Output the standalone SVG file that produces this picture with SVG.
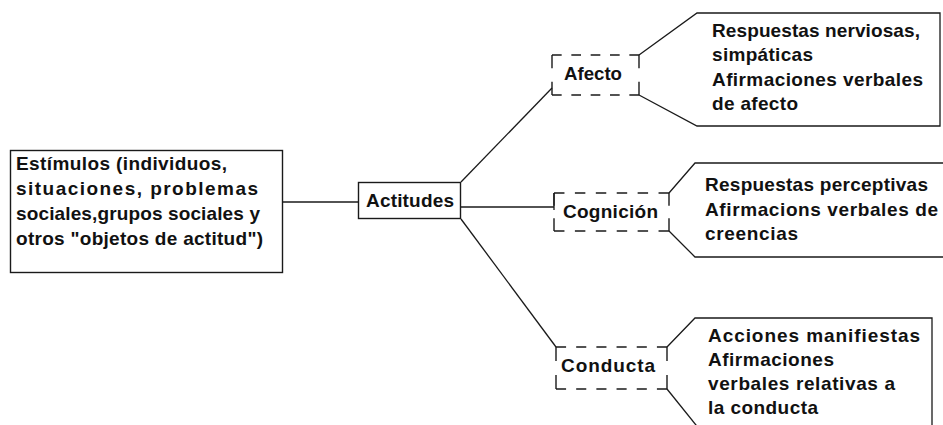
<svg xmlns="http://www.w3.org/2000/svg" width="943" height="425" viewBox="0 0 943 425">
  <style>
    .bg { fill: #ffffff; }
    .box { fill: #ffffff; stroke: #1a1a1a; stroke-width: 1.4; }
    .ln { fill: none; stroke: #1a1a1a; stroke-width: 1.3; }
    .dash { fill: none; stroke: #1a1a1a; stroke-width: 1.4; stroke-dasharray: 1 1; }
    text { font-family: "Liberation Sans", Arial, sans-serif; font-weight: bold; font-size: 19px; fill: #111111; }
  </style>
  <rect class="bg" x="0" y="0" width="943" height="425"/>

  <!-- connectors -->
  <g id="connectors">
    <line class="ln" x1="282" y1="202" x2="358" y2="202"/>
    <line class="ln" x1="461" y1="182" x2="552" y2="88"/>
    <line class="ln" x1="461" y1="207" x2="554" y2="207"/>
    <line class="ln" x1="461" y1="219" x2="556" y2="347"/>
  </g>

  <!-- stimulus node -->
  <g id="estimulos">
    <rect class="box" x="10.5" y="150.5" width="272" height="122"/>
    <text x="16" y="170" textLength="211" lengthAdjust="spacing">Estímulos (individuos,</text>
    <text x="16" y="195" textLength="242" lengthAdjust="spacing">situaciones, problemas</text>
    <text x="16" y="220" textLength="244" lengthAdjust="spacing">sociales,grupos sociales y</text>
    <text x="16" y="245" textLength="247" lengthAdjust="spacing">otros "objetos de actitud")</text>
  </g>

  <!-- central node -->
  <g id="actitudes">
    <rect class="box" x="358.5" y="182.5" width="102" height="36"/>
    <text x="366" y="207" textLength="88" lengthAdjust="spacing">Actitudes</text>
  </g>

  <!-- component: affect -->
  <g id="afecto">
    <line class="dash" x1="552" y1="55" x2="639" y2="55" pathLength="9"/>
    <line class="dash" x1="552" y1="95" x2="639" y2="95" pathLength="9"/>
    <line class="dash" x1="552" y1="55" x2="552" y2="95" pathLength="3"/>
    <line class="dash" x1="639" y1="55" x2="639" y2="95" pathLength="3"/>
    <text x="564" y="80" textLength="58" lengthAdjust="spacingAndGlyphs">Afecto</text>
  </g>
  <g id="afecto-respuestas">
    <polyline class="ln" points="639,55 697,13 940,13 940,126 697,126 639,95"/>
    <text x="712" y="37" textLength="208" lengthAdjust="spacing">Respuestas nerviosas,</text>
    <text x="712" y="61" textLength="101" lengthAdjust="spacing">simpáticas</text>
    <text x="712" y="86" textLength="211" lengthAdjust="spacing">Afirmaciones verbales</text>
    <text x="712" y="110" textLength="86" lengthAdjust="spacing">de afecto</text>
  </g>

  <!-- component: cognition -->
  <g id="cognicion">
    <line class="dash" x1="554" y1="193" x2="669" y2="193" pathLength="11"/>
    <line class="dash" x1="554" y1="231" x2="669" y2="231" pathLength="11"/>
    <line class="dash" x1="554" y1="193" x2="554" y2="231" pathLength="3"/>
    <line class="ln" x1="554" y1="193" x2="554" y2="210"/>
    <line class="dash" x1="669" y1="193" x2="669" y2="231" pathLength="3"/>
    <text x="563" y="218" textLength="95" lengthAdjust="spacing">Cognición</text>
  </g>
  <g id="cognicion-respuestas">
    <polyline class="ln" points="669,193 695,163 945,163"/>
    <polyline class="ln" points="669,231 695,257 945,257"/>
    <text x="705" y="191" textLength="223" lengthAdjust="spacing">Respuestas perceptivas</text>
    <text x="705" y="216" textLength="233" lengthAdjust="spacing">Afirmacions verbales de</text>
    <text x="705" y="240" textLength="93" lengthAdjust="spacing">creencias</text>
  </g>

  <!-- component: behaviour -->
  <g id="conducta">
    <line class="dash" x1="556" y1="347" x2="667" y2="347" pathLength="11"/>
    <line class="dash" x1="556" y1="389" x2="667" y2="389" pathLength="11"/>
    <line class="dash" x1="556" y1="347" x2="556" y2="389" pathLength="3"/>
    <line class="dash" x1="667" y1="347" x2="667" y2="389" pathLength="3"/>
    <text x="561" y="372" textLength="94" lengthAdjust="spacing">Conducta</text>
  </g>
  <g id="conducta-respuestas">
    <polyline class="ln" points="667,347 695,318 932,318 932,430"/>
    <polyline class="ln" points="667,389 700,430"/>
    <text x="708" y="342" textLength="212" lengthAdjust="spacing">Acciones manifiestas</text>
    <text x="708" y="366" textLength="126" lengthAdjust="spacing">Afirmaciones</text>
    <text x="708" y="390" textLength="187" lengthAdjust="spacing">verbales relativas a</text>
    <text x="708" y="414" textLength="110" lengthAdjust="spacing">la conducta</text>
  </g>
</svg>
